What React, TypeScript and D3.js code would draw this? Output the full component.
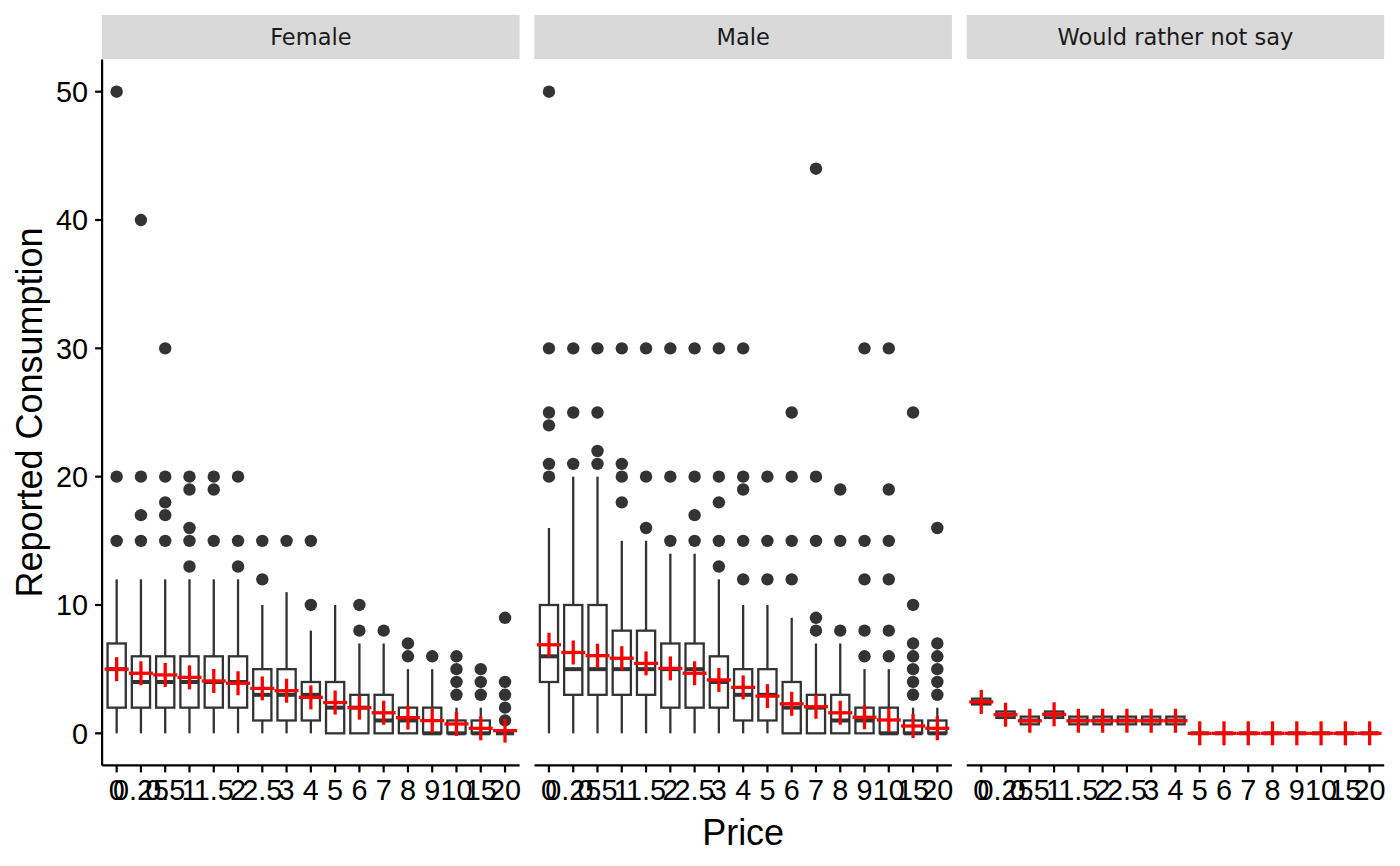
import * as d3 from 'd3';

const prices = ['0', '0.25', '0.5', '1', '1.5', '2', '2.5', '3', '4', '5', '6', '7', '8', '9', '10', '15', '20'];
const panels = ['Female', 'Male', 'Would rather not say'];
const yTicks = [0, 10, 20, 30, 40, 50];

// [lower whisker, q1, median, q3, upper whisker] per price
const femaleBoxes = [
  [0, 2, 5, 7, 12], [0, 2, 4, 6, 12], [0, 2, 4, 6, 12], [0, 2, 4, 6, 12], [0, 2, 4, 6, 12],
  [0, 2, 4, 6, 12], [0, 1, 3, 5, 10], [0, 1, 3, 5, 11], [0, 1, 3, 4, 8], [0, 0, 2, 4, 10],
  [0, 0, 2, 3, 7], [0, 0, 1, 3, 7], [0, 0, 1, 2, 5], [0, 0, 0, 2, 5], [0, 0, 0, 1, 2],
  [0, 0, 0, 1, 2], [0, 0, 0, 0, 0],
];
const femaleMeans = [5.0, 4.68, 4.55, 4.36, 4.08, 3.9, 3.5, 3.32, 2.8, 2.4, 2.0, 1.6, 1.22, 0.99, 0.73, 0.39, 0.21];
const femaleOutliers = [
  [15, 20, 50], [15, 17, 20, 40], [15, 17, 18, 20, 30], [13, 15, 16, 19, 20], [15, 19, 20],
  [13, 15, 20], [12, 15], [15], [10, 15], [],
  [8, 10], [8], [6, 7], [6], [3, 4, 5, 6],
  [3, 4, 5], [1, 2, 3, 4, 9],
];

const maleBoxes = [
  [0, 4, 6, 10, 16], [0, 3, 5, 10, 20], [0, 3, 5, 10, 20], [0, 3, 5, 8, 15], [0, 3, 5, 8, 15],
  [0, 2, 5, 7, 14], [0, 2, 5, 7, 14], [0, 2, 4, 6, 12], [0, 1, 3, 5, 10], [0, 1, 3, 5, 10],
  [0, 0, 2, 4, 9], [0, 0, 2, 3, 7], [0, 0, 1, 3, 7], [0, 0, 1, 2, 5], [0, 0, 0, 2, 5],
  [0, 0, 0, 1, 2], [0, 0, 0, 1, 2],
];
const maleMeans = [6.9, 6.3, 6.05, 5.85, 5.45, 5.06, 4.68, 4.16, 3.58, 2.9, 2.3, 2.07, 1.6, 1.25, 1.04, 0.57, 0.39];
const maleOutliers = [
  [20, 21, 24, 25, 30, 50], [21, 25, 30], [21, 22, 25, 30], [18, 20, 21, 30], [16, 20, 30],
  [15, 20, 30], [15, 17, 20, 30], [13, 15, 18, 20, 30], [12, 15, 19, 20, 30], [12, 15, 20],
  [12, 15, 20, 25], [8, 9, 15, 20, 44], [8, 15, 19], [6, 8, 12, 15, 30], [6, 8, 12, 15, 19, 30],
  [3, 4, 5, 6, 7, 10, 25], [3, 4, 5, 6, 7, 16],
];

const otherBoxes = [
  [2.25, 2.25, 2.45, 2.7, 2.7], [1.2, 1.2, 1.45, 1.7, 1.7], [0.7, 0.7, 1.0, 1.3, 1.3], [1.2, 1.2, 1.45, 1.7, 1.7],
  [0.7, 0.7, 1.0, 1.3, 1.3], [0.7, 0.7, 1.0, 1.3, 1.3], [0.7, 0.7, 1.0, 1.3, 1.3], [0.7, 0.7, 1.0, 1.3, 1.3],
  [0.7, 0.7, 1.0, 1.3, 1.3], [0, 0, 0, 0, 0], [0, 0, 0, 0, 0], [0, 0, 0, 0, 0], [0, 0, 0, 0, 0],
  [0, 0, 0, 0, 0], [0, 0, 0, 0, 0], [0, 0, 0, 0, 0], [0, 0, 0, 0, 0],
];
const otherMeans = [2.45, 1.45, 0.98, 1.48, 0.98, 0.98, 0.98, 0.98, 0.98, 0, 0, 0, 0, 0, 0, 0, 0];
const otherOutliers: number[][] = prices.map(() => []);

const panelBoxes = [femaleBoxes, maleBoxes, otherBoxes];
const panelMeans = [femaleMeans, maleMeans, otherMeans];
const panelOutliers = [femaleOutliers, maleOutliers, otherOutliers];

const W = 1400;
const H = 866;
const panelTop = 59.6;
const panelBottom = 765.4;
const panelLeft = 102.1;
const panelWidth = 417.5;
const panelGap = 14.8;
const stripTop = 15;

const tickFont = '"Liberation Sans", Arial, Helvetica, sans-serif';
const boxColor = '#333333';
const lineW = 2.3;

function Panel({ index }: { index: number }) {
  const x0 = panelLeft + index * (panelWidth + panelGap);
  const x = d3.scalePoint<string>().domain(prices).range([x0, x0 + panelWidth]).padding(0.6);
  const y = d3.scaleLinear().domain([-2.5, 52.5]).range([panelBottom, panelTop]);
  const half = (x.step() * 0.75) / 2;
  const boxes = panelBoxes[index];
  const means = panelMeans[index];
  const outliers = panelOutliers[index];

  return (
    <g>
      {/* strip */}
      <rect x={x0} y={stripTop} width={panelWidth} height={panelTop - stripTop - 0.6} fill="#D9D9D9" />
      <text
        x={x0 + panelWidth / 2}
        y={44.5}
        textAnchor="middle"
        fontFamily='"DejaVu Sans", sans-serif'
        fontSize={22.5}
        fill="#1A1A1A"
      >
        {panels[index]}
      </text>

      {/* boxes */}
      {boxes.map((b, i) => {
        const cx = x(prices[i])!;
        const [lo, q1, med, q3, hi] = b;
        return (
          <g key={i}>
            <line x1={cx} x2={cx} y1={y(q3)} y2={y(hi)} stroke={boxColor} strokeWidth={lineW} />
            <line x1={cx} x2={cx} y1={y(q1)} y2={y(lo)} stroke={boxColor} strokeWidth={lineW} />
            <rect
              x={cx - half}
              y={y(q3)}
              width={half * 2}
              height={Math.max(0, y(q1) - y(q3))}
              fill="white"
              stroke={boxColor}
              strokeWidth={lineW}
            />
            <line x1={cx - half} x2={cx + half} y1={y(med)} y2={y(med)} stroke={boxColor} strokeWidth={4} />
            {outliers[i].map((v, j) => (
              <circle key={j} cx={cx} cy={y(v)} r={6.2} fill={boxColor} />
            ))}
          </g>
        );
      })}

      {/* mean crosses */}
      {means.map((m, i) => {
        const cx = x(prices[i])!;
        const cy = y(m);
        return (
          <g key={i} stroke="#FF0000" strokeWidth={3.3}>
            <line x1={cx - 12} x2={cx + 12} y1={cy} y2={cy} />
            <line x1={cx} x2={cx} y1={cy - 12} y2={cy + 12} />
          </g>
        );
      })}

      {/* x axis */}
      <line x1={x0} x2={x0 + panelWidth} y1={panelBottom} y2={panelBottom} stroke="black" strokeWidth={2.2} />
      {prices.map((p) => (
        <g key={p}>
          <line x1={x(p)} x2={x(p)} y1={panelBottom} y2={panelBottom + 7} stroke="black" strokeWidth={2.2} />
          <text x={x(p)} y={800} textAnchor="middle" fontFamily={tickFont} fontSize={28.8} fill="black">
            {p}
          </text>
        </g>
      ))}

      {/* y axis on first panel only */}
      {index === 0 && (
        <g>
          <line x1={x0} x2={x0} y1={panelTop} y2={panelBottom} stroke="black" strokeWidth={2.2} />
          {yTicks.map((t) => (
            <g key={t}>
              <line x1={x0 - 7} x2={x0} y1={y(t)} y2={y(t)} stroke="black" strokeWidth={2.2} />
              <text
                x={x0 - 14}
                y={y(t)}
                dy="0.36em"
                textAnchor="end"
                fontFamily={tickFont}
                fontSize={28.8}
                fill="black"
              >
                {t}
              </text>
            </g>
          ))}
        </g>
      )}
    </g>
  );
}

export default function App() {
  const totalRight = panelLeft + 3 * panelWidth + 2 * panelGap;
  return (
    <svg
      width={W}
      height={H}
      viewBox={`0 0 ${W} ${H}`}
      style={{ position: 'absolute', left: 0, top: 0, background: 'white' }}
    >
      <rect width={W} height={H} fill="white" />
      {panels.map((_, i) => (
        <Panel key={i} index={i} />
      ))}
      <text
        x={(panelLeft + totalRight) / 2}
        y={845}
        textAnchor="middle"
        fontFamily={tickFont}
        fontSize={36}
        fill="black"
      >
        Price
      </text>
      <text
        transform={`translate(41.5, ${(panelTop + panelBottom) / 2}) rotate(-90)`}
        textAnchor="middle"
        fontFamily={tickFont}
        fontSize={36}
        fill="black"
      >
        Reported Consumption
      </text>
    </svg>
  );
}
